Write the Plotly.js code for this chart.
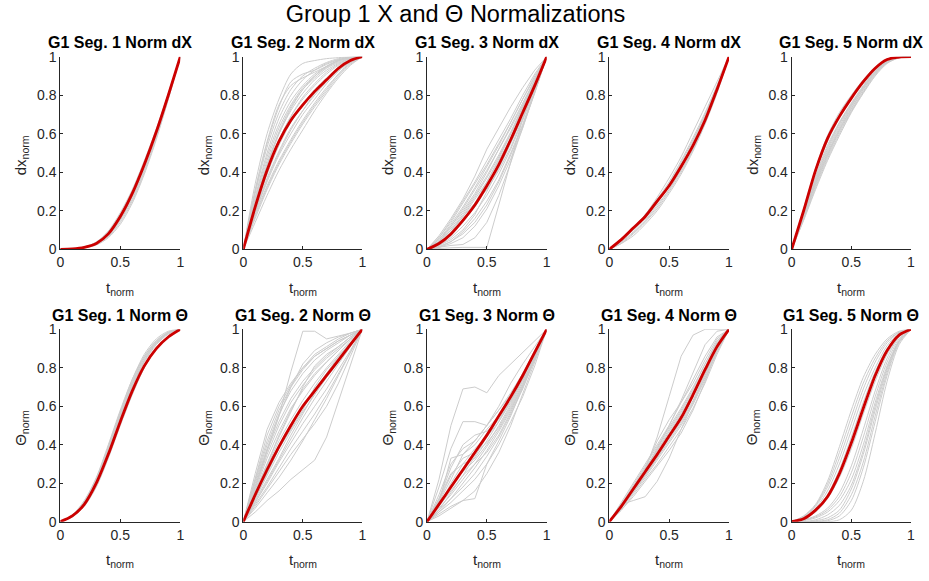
<!DOCTYPE html>
<html>
<head>
<meta charset="utf-8">
<script src="https://cdn.plot.ly/plotly-3.0.1.min.js"></script>
<style>
  html, body { margin: 0; padding: 0; background: #ffffff; }
  #chart { width: 929px; height: 581px; }
</style>
</head>
<body>
<div id="chart"></div>
<script>
// Normalised time samples shared by every trace
const tNorm = [0, 0.1, 0.2, 0.3, 0.4, 0.5, 0.6, 0.7, 0.8, 0.9, 1];

const xTickVals = [0, 0.5, 1];
const xTickText = ['0', '0.5', '1'];
const yTickVals = [0, 0.2, 0.4, 0.6, 0.8, 1];
const yTickText = ['0', '0.2', '0.4', '0.6', '0.8', '1'];

const panelTitles = [
  'G1 Seg. 1 Norm dX', 'G1 Seg. 2 Norm dX', 'G1 Seg. 3 Norm dX', 'G1 Seg. 4 Norm dX', 'G1 Seg. 5 Norm dX',
  'G1 Seg. 1 Norm Θ', 'G1 Seg. 2 Norm Θ', 'G1 Seg. 3 Norm Θ', 'G1 Seg. 4 Norm Θ', 'G1 Seg. 5 Norm Θ'
];
const rowYLabels = ['dx<sub>norm</sub>', 'Θ<sub>norm</sub>'];
const xLabel = 't<sub>norm</sub>';
const mainTitle = 'Group 1 X and Θ Normalizations';

// ---- Row 1: normalised dX per segment (group mean + individual trials) ----
const seg1DxMean = [0, 0.002, 0.01, 0.03, 0.08, 0.17, 0.29, 0.44, 0.61, 0.80, 1];
const seg1DxTrials = [
  [0, 0.002, 0.01, 0.03, 0.07, 0.15, 0.26, 0.41, 0.59, 0.79, 1],
  [0, 0.003, 0.012, 0.035, 0.09, 0.18, 0.30, 0.45, 0.62, 0.81, 1],
  [0, 0.001, 0.008, 0.025, 0.065, 0.14, 0.25, 0.40, 0.58, 0.78, 1],
  [0, 0.002, 0.011, 0.032, 0.085, 0.175, 0.295, 0.445, 0.615, 0.80, 1],
  [0, 0.002, 0.009, 0.028, 0.072, 0.155, 0.27, 0.42, 0.60, 0.79, 1],
  [0, 0.003, 0.013, 0.038, 0.095, 0.19, 0.31, 0.46, 0.625, 0.805, 1],
  [0, 0.001, 0.007, 0.022, 0.06, 0.13, 0.24, 0.39, 0.57, 0.78, 1],
  [0, 0.002, 0.01, 0.03, 0.078, 0.165, 0.285, 0.435, 0.605, 0.795, 1]
];

const seg2DxMean = [0, 0.22, 0.41, 0.56, 0.67, 0.75, 0.82, 0.88, 0.94, 0.98, 1];
const seg2DxTrials = [
  [0, 0.34, 0.60, 0.78, 0.91, 0.965, 0.98, 0.99, 0.995, 1, 1],
  [0, 0.31, 0.56, 0.75, 0.85, 0.89, 0.92, 0.95, 0.98, 0.995, 1],
  [0, 0.30, 0.55, 0.74, 0.87, 0.91, 0.93, 0.96, 0.985, 0.997, 1],
  [0, 0.29, 0.53, 0.71, 0.83, 0.90, 0.94, 0.97, 0.99, 0.998, 1],
  [0, 0.27, 0.50, 0.68, 0.80, 0.88, 0.93, 0.965, 0.985, 0.997, 1],
  [0, 0.26, 0.48, 0.65, 0.77, 0.85, 0.91, 0.95, 0.98, 0.995, 1],
  [0, 0.25, 0.46, 0.63, 0.75, 0.84, 0.90, 0.945, 0.975, 0.993, 1],
  [0, 0.24, 0.44, 0.60, 0.72, 0.81, 0.88, 0.93, 0.965, 0.99, 1],
  [0, 0.23, 0.44, 0.61, 0.74, 0.83, 0.89, 0.94, 0.97, 0.99, 1],
  [0, 0.22, 0.43, 0.60, 0.73, 0.83, 0.90, 0.95, 0.98, 0.995, 1],
  [0, 0.23, 0.42, 0.57, 0.69, 0.78, 0.85, 0.91, 0.955, 0.985, 1],
  [0, 0.21, 0.40, 0.56, 0.69, 0.79, 0.86, 0.92, 0.96, 0.99, 1],
  [0, 0.21, 0.39, 0.54, 0.66, 0.75, 0.83, 0.89, 0.945, 0.98, 1],
  [0, 0.20, 0.37, 0.51, 0.63, 0.72, 0.80, 0.87, 0.93, 0.975, 1],
  [0, 0.19, 0.36, 0.50, 0.62, 0.72, 0.81, 0.88, 0.94, 0.98, 1],
  [0, 0.19, 0.35, 0.49, 0.60, 0.70, 0.78, 0.86, 0.925, 0.972, 1],
  [0, 0.18, 0.33, 0.46, 0.57, 0.67, 0.76, 0.84, 0.91, 0.965, 1],
  [0, 0.17, 0.32, 0.45, 0.56, 0.66, 0.75, 0.83, 0.91, 0.97, 1],
  [0, 0.16, 0.31, 0.44, 0.55, 0.65, 0.74, 0.82, 0.90, 0.96, 1],
  [0, 0.14, 0.28, 0.41, 0.52, 0.62, 0.72, 0.81, 0.89, 0.955, 1]
];

const seg3DxMean = [0, 0.03, 0.08, 0.15, 0.23, 0.33, 0.44, 0.57, 0.71, 0.85, 1];
const seg3DxTrials = [
  [0, 0.07, 0.16, 0.26, 0.38, 0.52, 0.63, 0.74, 0.84, 0.93, 1],
  [0, 0.06, 0.15, 0.25, 0.35, 0.46, 0.57, 0.68, 0.80, 0.91, 1],
  [0, 0.06, 0.14, 0.24, 0.34, 0.44, 0.55, 0.66, 0.78, 0.90, 1],
  [0, 0.05, 0.13, 0.22, 0.32, 0.43, 0.54, 0.66, 0.78, 0.89, 1],
  [0, 0.05, 0.12, 0.20, 0.29, 0.40, 0.52, 0.64, 0.76, 0.88, 1],
  [0, 0.04, 0.12, 0.21, 0.31, 0.41, 0.52, 0.63, 0.75, 0.88, 1],
  [0, 0.04, 0.11, 0.19, 0.28, 0.38, 0.49, 0.61, 0.74, 0.87, 1],
  [0, 0.04, 0.10, 0.17, 0.24, 0.31, 0.41, 0.53, 0.68, 0.84, 1],
  [0, 0.03, 0.10, 0.18, 0.27, 0.37, 0.48, 0.60, 0.73, 0.86, 1],
  [0, 0.03, 0.09, 0.17, 0.26, 0.35, 0.46, 0.58, 0.72, 0.86, 1],
  [0, 0.03, 0.08, 0.15, 0.24, 0.35, 0.47, 0.60, 0.74, 0.87, 1],
  [0, 0.02, 0.07, 0.14, 0.22, 0.32, 0.43, 0.56, 0.70, 0.85, 1],
  [0, 0.02, 0.06, 0.12, 0.19, 0.28, 0.39, 0.52, 0.67, 0.83, 1],
  [0, 0.02, 0.05, 0.10, 0.18, 0.30, 0.42, 0.55, 0.69, 0.84, 1],
  [0, 0.01, 0.04, 0.09, 0.16, 0.25, 0.36, 0.50, 0.65, 0.82, 1],
  [0, 0.015, 0.04, 0.08, 0.14, 0.23, 0.35, 0.49, 0.64, 0.81, 1],
  [0, 0.01, 0.03, 0.06, 0.12, 0.21, 0.33, 0.47, 0.63, 0.81, 1],
  [0, 0.01, 0.02, 0.025, 0.06, 0.14, 0.28, 0.45, 0.63, 0.82, 1],
  [0, 0.005, 0.008, 0.01, 0.01, 0.01, 0.23, 0.45, 0.68, 0.84, 1]
];

const seg4DxMean = [0, 0.05, 0.11, 0.17, 0.25, 0.33, 0.43, 0.54, 0.67, 0.83, 1];
const seg4DxTrials = [
  [0, 0.04, 0.09, 0.15, 0.23, 0.31, 0.41, 0.52, 0.66, 0.82, 1],
  [0, 0.03, 0.08, 0.14, 0.21, 0.30, 0.40, 0.52, 0.66, 0.82, 1],
  [0, 0.05, 0.10, 0.17, 0.25, 0.34, 0.45, 0.57, 0.70, 0.85, 1],
  [0, 0.045, 0.10, 0.16, 0.24, 0.33, 0.44, 0.56, 0.70, 0.84, 1],
  [0, 0.035, 0.085, 0.145, 0.22, 0.31, 0.42, 0.55, 0.69, 0.84, 1],
  [0, 0.05, 0.11, 0.18, 0.26, 0.35, 0.46, 0.58, 0.71, 0.85, 1],
  [0, 0.03, 0.07, 0.13, 0.20, 0.29, 0.39, 0.51, 0.65, 0.81, 1],
  [0, 0.05, 0.11, 0.18, 0.27, 0.37, 0.48, 0.61, 0.74, 0.87, 1]
];

const seg5DxMean = [0, 0.20, 0.41, 0.575, 0.69, 0.785, 0.87, 0.94, 0.985, 0.998, 1];
const seg5DxTrials = [
  [0, 0.21, 0.42, 0.59, 0.71, 0.80, 0.88, 0.945, 0.985, 0.998, 1],
  [0, 0.20, 0.40, 0.56, 0.68, 0.78, 0.86, 0.935, 0.98, 0.997, 1],
  [0, 0.19, 0.38, 0.54, 0.66, 0.76, 0.85, 0.93, 0.98, 0.997, 1],
  [0, 0.185, 0.37, 0.53, 0.655, 0.755, 0.845, 0.925, 0.977, 0.996, 1],
  [0, 0.18, 0.36, 0.52, 0.65, 0.75, 0.84, 0.92, 0.975, 0.996, 1],
  [0, 0.175, 0.355, 0.51, 0.64, 0.745, 0.84, 0.92, 0.975, 0.996, 1],
  [0, 0.17, 0.35, 0.50, 0.63, 0.74, 0.84, 0.92, 0.975, 0.996, 1],
  [0, 0.17, 0.34, 0.49, 0.62, 0.73, 0.83, 0.915, 0.972, 0.995, 1],
  [0, 0.165, 0.34, 0.49, 0.62, 0.73, 0.83, 0.915, 0.972, 0.995, 1],
  [0, 0.16, 0.33, 0.48, 0.61, 0.72, 0.82, 0.91, 0.97, 0.995, 1],
  [0, 0.155, 0.32, 0.47, 0.60, 0.715, 0.815, 0.905, 0.968, 0.994, 1],
  [0, 0.15, 0.31, 0.46, 0.59, 0.71, 0.81, 0.90, 0.965, 0.994, 1]
];

// ---- Row 2: normalised Θ per segment ----
const seg1ThMean = [0, 0.03, 0.09, 0.20, 0.35, 0.52, 0.68, 0.81, 0.90, 0.96, 1];
const seg1ThTrials = [
  [0, 0.03, 0.10, 0.22, 0.38, 0.56, 0.72, 0.85, 0.93, 0.98, 1],
  [0, 0.035, 0.11, 0.23, 0.40, 0.58, 0.74, 0.86, 0.94, 0.985, 1],
  [0, 0.03, 0.095, 0.21, 0.36, 0.54, 0.70, 0.83, 0.92, 0.975, 1],
  [0, 0.025, 0.085, 0.19, 0.34, 0.51, 0.67, 0.80, 0.90, 0.965, 1],
  [0, 0.03, 0.10, 0.22, 0.39, 0.57, 0.73, 0.86, 0.94, 0.985, 1],
  [0, 0.035, 0.105, 0.225, 0.39, 0.57, 0.74, 0.87, 0.95, 0.99, 1],
  [0, 0.025, 0.08, 0.18, 0.33, 0.50, 0.66, 0.80, 0.90, 0.96, 1],
  [0, 0.03, 0.09, 0.20, 0.36, 0.55, 0.71, 0.84, 0.93, 0.98, 1],
  [0, 0.032, 0.10, 0.215, 0.375, 0.555, 0.72, 0.85, 0.935, 0.982, 1],
  [0, 0.028, 0.09, 0.205, 0.365, 0.545, 0.705, 0.835, 0.925, 0.978, 1]
];

const seg2ThMean = [0, 0.14, 0.27, 0.39, 0.50, 0.60, 0.68, 0.76, 0.84, 0.92, 1];
const seg2ThTrials = [
  [0, 0.18, 0.36, 0.55, 0.78, 0.99, 0.99, 0.95, 0.965, 0.98, 1],
  [0, 0.25, 0.48, 0.62, 0.72, 0.80, 0.86, 0.90, 0.94, 0.97, 1],
  [0, 0.23, 0.45, 0.60, 0.71, 0.80, 0.87, 0.91, 0.95, 0.98, 1],
  [0, 0.22, 0.42, 0.58, 0.70, 0.79, 0.86, 0.90, 0.94, 0.97, 1],
  [0, 0.21, 0.40, 0.56, 0.68, 0.77, 0.84, 0.89, 0.93, 0.97, 1],
  [0, 0.20, 0.38, 0.55, 0.70, 0.82, 0.89, 0.93, 0.96, 0.98, 1],
  [0, 0.19, 0.37, 0.52, 0.64, 0.73, 0.80, 0.86, 0.91, 0.96, 1],
  [0, 0.18, 0.35, 0.50, 0.62, 0.71, 0.79, 0.85, 0.90, 0.95, 1],
  [0, 0.17, 0.33, 0.47, 0.59, 0.68, 0.76, 0.83, 0.89, 0.95, 1],
  [0, 0.16, 0.30, 0.44, 0.57, 0.70, 0.81, 0.87, 0.91, 0.96, 1],
  [0, 0.15, 0.31, 0.45, 0.58, 0.69, 0.77, 0.83, 0.89, 0.95, 1],
  [0, 0.15, 0.29, 0.42, 0.53, 0.63, 0.72, 0.80, 0.87, 0.94, 1],
  [0, 0.13, 0.26, 0.38, 0.48, 0.58, 0.70, 0.79, 0.86, 0.93, 1],
  [0, 0.12, 0.25, 0.38, 0.50, 0.60, 0.69, 0.77, 0.85, 0.93, 1],
  [0, 0.12, 0.24, 0.36, 0.47, 0.57, 0.66, 0.75, 0.83, 0.92, 1],
  [0, 0.11, 0.22, 0.33, 0.45, 0.56, 0.67, 0.77, 0.86, 0.93, 1],
  [0, 0.10, 0.21, 0.32, 0.43, 0.54, 0.64, 0.73, 0.82, 0.91, 1],
  [0, 0.10, 0.20, 0.31, 0.41, 0.51, 0.60, 0.69, 0.79, 0.89, 1],
  [0, 0.09, 0.18, 0.28, 0.38, 0.47, 0.56, 0.66, 0.77, 0.88, 1],
  [0, 0.08, 0.17, 0.26, 0.35, 0.43, 0.51, 0.60, 0.72, 0.86, 1],
  [0, 0.07, 0.15, 0.23, 0.32, 0.42, 0.53, 0.64, 0.76, 0.88, 1],
  [0, 0.05, 0.11, 0.16, 0.22, 0.27, 0.32, 0.44, 0.63, 0.81, 1]
];

const seg3ThMean = [0, 0.09, 0.18, 0.27, 0.36, 0.45, 0.55, 0.65, 0.76, 0.88, 1];
const seg3ThTrials = [
  [0, 0.22, 0.50, 0.69, 0.70, 0.67, 0.76, 0.82, 0.88, 0.94, 1],
  [0, 0.18, 0.38, 0.52, 0.52, 0.50, 0.60, 0.72, 0.82, 0.91, 1],
  [0, 0.14, 0.30, 0.38, 0.42, 0.50, 0.58, 0.66, 0.76, 0.88, 1],
  [0, 0.12, 0.28, 0.40, 0.45, 0.47, 0.53, 0.63, 0.74, 0.87, 1],
  [0, 0.11, 0.24, 0.33, 0.36, 0.41, 0.49, 0.60, 0.72, 0.86, 1],
  [0, 0.10, 0.33, 0.35, 0.40, 0.48, 0.55, 0.66, 0.77, 0.89, 1],
  [0, 0.10, 0.22, 0.35, 0.42, 0.50, 0.58, 0.67, 0.77, 0.88, 1],
  [0, 0.12, 0.25, 0.30, 0.33, 0.42, 0.52, 0.63, 0.75, 0.87, 1],
  [0, 0.09, 0.19, 0.26, 0.32, 0.40, 0.50, 0.61, 0.73, 0.86, 1],
  [0, 0.08, 0.20, 0.30, 0.38, 0.44, 0.52, 0.62, 0.74, 0.87, 1],
  [0, 0.08, 0.16, 0.24, 0.34, 0.44, 0.54, 0.64, 0.75, 0.87, 1],
  [0, 0.07, 0.14, 0.22, 0.30, 0.39, 0.48, 0.59, 0.71, 0.85, 1],
  [0, 0.06, 0.15, 0.24, 0.30, 0.36, 0.45, 0.57, 0.70, 0.84, 1],
  [0, 0.06, 0.12, 0.18, 0.25, 0.34, 0.44, 0.56, 0.69, 0.84, 1],
  [0, 0.05, 0.12, 0.20, 0.28, 0.37, 0.47, 0.58, 0.71, 0.85, 1],
  [0, 0.05, 0.10, 0.16, 0.22, 0.30, 0.40, 0.52, 0.65, 0.81, 1],
  [0, 0.04, 0.08, 0.11, 0.16, 0.25, 0.36, 0.50, 0.66, 0.83, 1],
  [0, 0.03, 0.07, 0.11, 0.12, 0.30, 0.42, 0.55, 0.70, 0.85, 1]
];

const seg4ThMean = [0, 0.08, 0.17, 0.26, 0.35, 0.445, 0.54, 0.66, 0.79, 0.91, 1];
const seg4ThTrials = [
  [0, 0.08, 0.16, 0.27, 0.44, 0.65, 0.86, 0.97, 1, 1, 1],
  [0, 0.08, 0.17, 0.27, 0.38, 0.50, 0.63, 0.78, 0.92, 0.99, 1],
  [0, 0.10, 0.20, 0.30, 0.40, 0.50, 0.62, 0.74, 0.86, 0.96, 1],
  [0, 0.09, 0.18, 0.28, 0.42, 0.53, 0.62, 0.72, 0.84, 0.95, 1],
  [0, 0.09, 0.18, 0.27, 0.38, 0.48, 0.58, 0.69, 0.82, 0.94, 1],
  [0, 0.09, 0.19, 0.29, 0.39, 0.49, 0.59, 0.70, 0.82, 0.93, 1],
  [0, 0.08, 0.18, 0.28, 0.37, 0.46, 0.56, 0.67, 0.80, 0.93, 1],
  [0, 0.08, 0.17, 0.27, 0.37, 0.47, 0.57, 0.68, 0.80, 0.92, 1],
  [0, 0.08, 0.16, 0.24, 0.33, 0.44, 0.55, 0.67, 0.79, 0.92, 1],
  [0, 0.07, 0.16, 0.25, 0.34, 0.43, 0.52, 0.63, 0.77, 0.90, 1],
  [0, 0.07, 0.15, 0.24, 0.33, 0.42, 0.51, 0.62, 0.75, 0.89, 1],
  [0, 0.07, 0.15, 0.23, 0.32, 0.41, 0.50, 0.61, 0.74, 0.88, 1],
  [0, 0.06, 0.14, 0.22, 0.30, 0.39, 0.48, 0.59, 0.72, 0.87, 1],
  [0, 0.06, 0.13, 0.21, 0.29, 0.37, 0.46, 0.58, 0.73, 0.89, 1],
  [0, 0.09, 0.11, 0.13, 0.21, 0.33, 0.48, 0.62, 0.76, 0.90, 1]
];

const seg5ThMean = [0, 0.015, 0.06, 0.13, 0.25, 0.41, 0.59, 0.76, 0.89, 0.97, 1];
const seg5ThTrials = [
  [0, 0.03, 0.09, 0.21, 0.39, 0.58, 0.75, 0.87, 0.95, 0.99, 1],
  [0, 0.028, 0.085, 0.195, 0.36, 0.545, 0.72, 0.85, 0.94, 0.985, 1],
  [0, 0.025, 0.08, 0.18, 0.33, 0.51, 0.69, 0.83, 0.93, 0.985, 1],
  [0, 0.022, 0.07, 0.16, 0.30, 0.475, 0.655, 0.80, 0.915, 0.98, 1],
  [0, 0.02, 0.06, 0.14, 0.27, 0.44, 0.62, 0.78, 0.90, 0.97, 1],
  [0, 0.018, 0.055, 0.13, 0.25, 0.41, 0.59, 0.755, 0.885, 0.965, 1],
  [0, 0.015, 0.05, 0.12, 0.23, 0.38, 0.56, 0.73, 0.87, 0.96, 1],
  [0, 0.01, 0.03, 0.07, 0.15, 0.29, 0.48, 0.68, 0.85, 0.96, 1],
  [0, 0.008, 0.025, 0.06, 0.13, 0.255, 0.44, 0.65, 0.83, 0.95, 1],
  [0, 0.005, 0.02, 0.05, 0.11, 0.22, 0.40, 0.62, 0.81, 0.94, 1],
  [0, 0, 0.01, 0.035, 0.085, 0.19, 0.37, 0.60, 0.80, 0.94, 1],
  [0, 0, 0.005, 0.02, 0.06, 0.17, 0.35, 0.58, 0.79, 0.94, 1],
  [0, 0, 0.002, 0.01, 0.045, 0.14, 0.31, 0.55, 0.775, 0.935, 1],
  [0, 0, 0, 0.005, 0.03, 0.11, 0.28, 0.52, 0.76, 0.93, 1],
  [0, 0, 0, 0, 0.01, 0.06, 0.21, 0.46, 0.73, 0.92, 1]
];

const panelMeans = [seg1DxMean, seg2DxMean, seg3DxMean, seg4DxMean, seg5DxMean,
                    seg1ThMean, seg2ThMean, seg3ThMean, seg4ThMean, seg5ThMean];
const panelTrials = [seg1DxTrials, seg2DxTrials, seg3DxTrials, seg4DxTrials, seg5DxTrials,
                     seg1ThTrials, seg2ThTrials, seg3ThTrials, seg4ThTrials, seg5ThTrials];
// Smooth panels get spline trials, jagged ones keep straight segments
const trialShapes = ['spline', 'spline', 'linear', 'spline', 'spline',
                     'spline', 'linear', 'linear', 'linear', 'spline'];

// Figure geometry (pixels)
const W = 929, H = 581;
const colPx = [[60.3, 180.3], [243.3, 362.3], [427, 546.7], [609.3, 729], [791.7, 911]];
const rowPx = [[56.7, 249.3], [329.3, 521.7]];

const FONT = 'Liberation Sans, Arial, Helvetica, sans-serif';
const AX_COLOR = '#262626';
const TRIAL_COLOR = '#cccccc';
const MEAN_COLOR = '#cc0000';

const traces = [];
const layout = {
  width: W, height: H,
  margin: {l: 0, r: 0, t: 0, b: 0},
  paper_bgcolor: '#ffffff', plot_bgcolor: '#ffffff',
  showlegend: false,
  font: {family: FONT, color: AX_COLOR},
  title: {
    text: mainTitle, x: 455.5 / W, xanchor: 'center', xref: 'paper',
    y: 1 - 13.5 / H, yanchor: 'middle', yref: 'paper',
    font: {family: FONT, size: 23.5, color: '#000000'}
  },
  annotations: []
};

for (let p = 0; p < 10; p++) {
  const row = Math.floor(p / 5), col = p % 5;
  const ax = p === 0 ? '' : String(p + 1);
  const [x0, x1] = colPx[col];
  const [yt, yb] = rowPx[row];

  panelTrials[p].forEach(vals => {
    traces.push({
      type: 'scatter', mode: 'lines', x: tNorm, y: vals,
      xaxis: 'x' + ax, yaxis: 'y' + ax,
      line: {color: TRIAL_COLOR, width: 1, shape: trialShapes[p], smoothing: 0.8},
      hoverinfo: 'skip'
    });
  });
  traces.push({
    type: 'scatter', mode: 'lines', x: tNorm, y: panelMeans[p],
    xaxis: 'x' + ax, yaxis: 'y' + ax,
    line: {color: MEAN_COLOR, width: 2.8, shape: 'spline', smoothing: 0.8}
  });

  const common = {
    range: [0, 1], showgrid: false, zeroline: false,
    showline: true, linecolor: AX_COLOR, linewidth: 1, mirror: false,
    ticks: 'inside', ticklen: 3, tickwidth: 1, tickcolor: AX_COLOR,
    tickfont: {family: FONT, size: 14, color: AX_COLOR},
    fixedrange: true
  };
  layout['xaxis' + ax] = Object.assign({}, common, {
    domain: [x0 / W, x1 / W], anchor: 'y' + ax,
    tickmode: 'array', tickvals: xTickVals, ticktext: xTickText
  });
  layout['yaxis' + ax] = Object.assign({}, common, {
    domain: [1 - yb / H, 1 - yt / H], anchor: 'x' + ax,
    tickmode: 'array', tickvals: yTickVals, ticktext: yTickText
  });

  const cx = (x0 + x1) / 2;
  // Panel title
  layout.annotations.push({
    text: '<b>' + panelTitles[p] + '</b>', showarrow: false,
    xref: 'paper', yref: 'paper', x: cx / W, y: 1 - (yt - 14) / H,
    xanchor: 'center', yanchor: 'middle',
    font: {family: FONT, size: 16, color: '#000000'}
  });
  // x label
  layout.annotations.push({
    text: xLabel, showarrow: false,
    xref: 'paper', yref: 'paper', x: cx / W, y: 1 - (yb + 39) / H,
    xanchor: 'center', yanchor: 'middle',
    font: {family: FONT, size: 15, color: AX_COLOR}
  });
  // y label
  layout.annotations.push({
    text: rowYLabels[row], showarrow: false, textangle: -90,
    xref: 'paper', yref: 'paper', x: (x0 - 39) / W, y: 1 - ((yt + yb) / 2 + 2) / H,
    xanchor: 'center', yanchor: 'middle',
    font: {family: FONT, size: 15, color: AX_COLOR}
  });
}

Plotly.newPlot('chart', traces, layout, {displayModeBar: false, staticPlot: true});
</script>
</body>
</html>
